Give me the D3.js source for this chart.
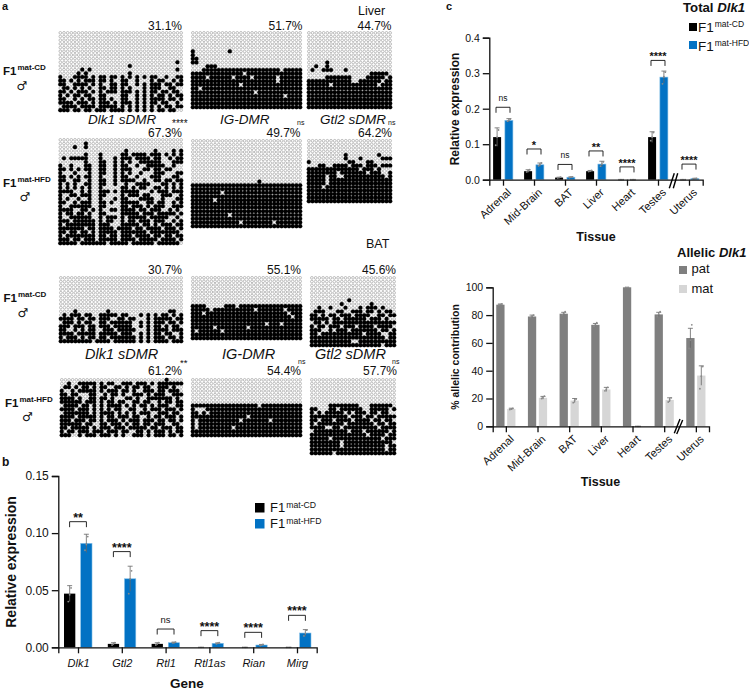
<!DOCTYPE html>
<html>
<head>
<meta charset="utf-8">
<script src="https://cdn.jsdelivr.net/npm/d3@7"></script>
<style>
  html, body { margin: 0; padding: 0; background: #fff; }
  text { font-family: "Liberation Sans", Arial, sans-serif; fill: #111; }
</style>
</head>
<body>
<div id="chart"></div>
<script>
// methylation grids, only the rows from the first black dot down (1 = methylated)
var liverCdDlk1 = [
  "0000000000000000000000000000000010",
  "0000000000000000000100000000000000",
  "0000001010000000000000000000000010",
  "0000010100000000000100000000000000",
  "1000111101011011010101010110010011",
  "1101010111011010011001000101100101",
  "1100111101010011011001010111011011",
  "0110101010011011010100010111001100",
  "1101011101010111011101010110110110",
  "1010110110011000011001010101101011",
  "1100101011011010011001010111101101",
  "1111011101011101011101010110110010",
  "0111101111011111010101010101011011",
  "1110110110111011110101010101101100"];
var liverCdIg = [
  "100000000010000000000000000000",
  "100000000000000000000000000000",
  "110000000000000000000000000000",
  "110000000000000000000000000000",
  "000011100000000000000000000000",
  "000111111111111111111111011111",
  "111111111111110111111111111111",
  "111101111110111101111110111111",
  "111111111111111111111110111111",
  "111111111111101111111111111111",
  "110111111111111111111111111111",
  "111111111111111110111111111111",
  "111111111111111111111111101111",
  "111111111111111111111111111111",
  "111111111111111111111111111111",
  "111111111111111111111111111111"];
var liverCdGtl2 = [
  "00000100000000000000000",
  "00100100000000000000000",
  "01001110001000000000000",
  "00000000000000000111110",
  "00000111111100001111101",
  "11111111111100111111011",
  "11111101111111111110111",
  "11111111111111111111111",
  "11111111111111111111111",
  "11111111111111111111111",
  "11111111111111111111111",
  "11111111111111111111111",
  "11111111111111111111111"];
var liverHfdDlk1 = [
  "0000000100000000000000000000000000",
  "0000100100000000000000000000000000",
  "0000000000000000001000000010000101",
  "0000000100010000011011110111010101",
  "0101111100010001011101111011001011",
  "0000000100011001010100111111000111",
  "1001000110011001011001001111100100",
  "1101010110011001011100011011011000",
  "1000100010011001010100100011100011",
  "1101010110010001011001000111000110",
  "1100110010011001011110010011011011",
  "1010100110011001001001111000110101",
  "1010101010010000011010110011010101",
  "1111001010011101011111000101110111",
  "1001101110011000010111011000111001",
  "1010010010010001011000111100100011",
  "1100101110011010011111001101100101",
  "1001111110011000011011101011100111",
  "1111001101010011011110110111001010",
  "1011011010011000011111011101111101",
  "1001111110010111010111110111110010",
  "1110111111010110010110111011100101",
  "1011111111011100011111011010111011",
  "1111111011011110111101101111011101",
  "1101101101011111011111110111111110",
  "1011111111011011011101111011011011",
  "1110110111011111011110111110111101",
  "1111101111111011111011111101111110"];
var liverHfdIg = [
  "000000000000000000100000000000",
  "111111111111111111111111111111",
  "111111111111111111111111111111",
  "111111110111111111111111111111",
  "111111111111111111111111111111",
  "111111011111111111111111111111",
  "111111111111111111111111111111",
  "111111111111111111111111111111",
  "111111111111111111111111111111",
  "111111111101111111111111111111",
  "111111111111111111111111111111",
  "111111111111101111111101111111",
  "111111111111111111111111111111"];
var liverHfdGtl2 = [
  "00000000001000000001000",
  "00000000001000100000111",
  "10000000000110001100000",
  "00011001111011101110111",
  "11111111111111011101000",
  "11111111011111110111001",
  "11111011001111111111101",
  "11111011111111111111111",
  "11111011111111111111111",
  "11110111111111111111111",
  "11111111111111111111111",
  "11111111111111111111111",
  "11111111111111111111111",
  "11111111111111111111111"];
var batCdDlk1 = [
  "0000100000000100000000000000001100",
  "0101110110011111011000101010110101",
  "1111011011011100110110001011111011",
  "0111010110011011111100101011101101",
  "1110111011011101111100101011010110",
  "1100101011001110111110001011110111",
  "1111011111011111011100101011011001",
  "1011101011011011111110101011101101",
  "1111111110111101111110101011110111"];
var batCdIg = [
  "111100000111011111111111111111",
  "111110111111111110111111101111",
  "111011111111111111111111110111",
  "111111111111111111111111111011",
  "111111111111111111111111111111",
  "111111111111111111110111011111",
  "111111011111111011111111111111",
  "101111110111111111111111111111",
  "111111111111111111111111111111",
  "111111111111111111111111111111"];
var batCdGtl2 = [
  "00000000001000000000000",
  "00000000100000001000000",
  "00100100010001011101000",
  "01110001100111011010110",
  "11010110111011110011011",
  "11111011011111101110100",
  "01101011111111111111111",
  "10110111011101111011110",
  "11100101110111111101101",
  "11011111111111011110011",
  "11111111111111111111011",
  "11111111111001111111111",
  "11111111111111111110111"];
var batHfdDlk1 = [
  "0000000000000000000000000000010000",
  "0010011111010110011101110101111111",
  "0110101101011001101011011001110100",
  "1001011111010111011010011101101110",
  "1101100011001011010011101011100111",
  "1111010011011010001101001111111010",
  "1111110111010110110011011001011011",
  "0111101101010111101010110101110011",
  "1111011101010101100110010111011101",
  "0111111101011110101010111001110110",
  "1111011111010110111011001011011101",
  "1110111011010111010111011101101101",
  "1111110110011011101011011011100110",
  "1101111101011101110111110110111011",
  "1011011101110111011001101011101011",
  "1110010111011101010011101011101101"];
var batHfdIg = [
  "111111111111111111011111111111",
  "100011111111111111111111111111",
  "110101111111111111111111111111",
  "111111111111111011111111111111",
  "101111111111101111111011111111",
  "101111111111111111111111111111",
  "101111111110111111111111111111",
  "111111111111111111111111111111",
  "111111111111111111111111111111"];
var batHfdGtl2 = [
  "00000111111110001111110",
  "11000110111111001111101",
  "10101111101011101101100",
  "11111111110111011011111",
  "11011101111011110110110",
  "10111111101111111011011",
  "11110011011111111101111",
  "01111111110111011111101",
  "11111111111111101111011",
  "11111011111111111110111",
  "11111111011111111111110",
  "11111111011111111111011",
  "11111111111111111111011",
  "11111101111111111111111"];

// panel b
var genes = ["Dlk1", "Gtl2", "Rtl1", "Rtl1as", "Rian", "Mirg"];
var bCd = [0.047, 0.003, 0.003, 0, 0, 0];
var bHfd = [0.091, 0.060, 0.004, 0.0035, 0.002, 0.0125];
var bCdErr = [0.007, 0.001, 0.001, 0, 0, 0];
var bHfdErr = [0.008, 0.011, 0.0005, 0.0004, 0.0005, 0.003];
var bCdDots = [[0.040, 0.046, 0.052], [0.002, 0.003, 0.004], [0.002, 0.003, 0.004], [0, 0, 0, 0], [0, 0, 0, 0], [0, 0, 0, 0]];
var bHfdDots = [[0.085, 0.090, 0.097], [0.047, 0.060, 0.067], [0.004, 0.004, 0.0045], [0.003, 0.0035, 0.004], [0.0015, 0.002, 0.0025], [0.010, 0.012, 0.015]];
var bTicks = [0, 0.05, 0.10, 0.15];
var bSig = ["**", "****", "ns", "****", "****", "****"];
var bBracket = [0.110, 0.0838, 0.016, 0.0146, 0.0131, 0.028];

// panel c, total Dlk1
var tissues = ["Adrenal", "Mid-Brain", "BAT", "Liver", "Heart", "Testes", "Uterus"];
var cCd = [0.12, 0.024, 0.006, 0.024, 0, 0.12, 0];
var cHfd = [0.167, 0.042, 0.007, 0.044, 0, 0.289, 0.003];
var cCdErr = [0.026, 0.004, 0.001, 0.002, 0, 0.015, 0];
var cHfdErr = [0.005, 0.005, 0.001, 0.008, 0, 0.017, 0.001];
var cCdDots = [[0.097, 0.12, 0.14], [0.022, 0.025, 0.028], [0.005, 0.006, 0.007], [0.023, 0.024, 0.026], [0, 0, 0, 0], [0.11, 0.12, 0.133], [0, 0, 0, 0]];
var cHfdDots = [[0.165, 0.168, 0.171], [0.039, 0.042, 0.047], [0.006, 0.007, 0.008], [0.038, 0.044, 0.05], [0, 0, 0, 0], [0.27, 0.29, 0.303], [0.002, 0.003, 0.004]];
var cTicks = [0, 0.1, 0.2, 0.3, 0.4];
var cSig = ["ns", "*", "ns", "**", "****", "****", "****"];
var cBracket = [0.204, 0.0865, 0.043, 0.081, 0.036, 0.336, 0.044];

// panel d, allelic Dlk1
var dPat = [87.5, 79, 81, 73, 100, 80.5, 63.5];
var dMat = [12.5, 20.5, 18.5, 26.5, 0, 19, 36.5];
var dPatErr = [0.5, 1, 1, 1, 0, 1.5, 7];
var dMatErr = [0.5, 1, 1.5, 1.5, 0, 1.5, 7];
var dPatDots = [[87.3, 87.6, 88], [78.3, 79, 80], [80.3, 81, 82.5], [72, 73, 74.5], [100, 100, 100], [79, 80.5, 82.5], [56, 62, 73]];
var dMatDots = [[12, 12.4, 12.8], [20, 20.5, 21.7], [17, 18.5, 19.5], [25.5, 26.5, 28], [0, 0, 0, 0], [17.5, 19, 20.5], [27, 36, 43]];
var dTicks = [0, 20, 40, 60, 80, 100];

var cdBlack = "#000000", hfdBlue = "#0272c4", patGrey = "#7f7f7f", matGrey = "#d6d6d6";

var svg = d3.select("#chart").append("svg")
  .attr("width", 749)
  .attr("height", 690);

// ---- a: the dot grids ----
var grids = [
  {rows: liverCdDlk1, cols: 34, n: 22, x: [58.5, 183], y: [31, 112]},
  {rows: liverCdIg, cols: 30, n: 21, x: [191, 302], y: [31, 109]},
  {rows: liverCdGtl2, cols: 23, n: 21, x: [307, 392], y: [31, 109]},
  {rows: liverHfdDlk1, cols: 34, n: 29, x: [58.5, 183], y: [138, 245]},
  {rows: liverHfdIg, cols: 30, n: 24, x: [191, 302], y: [139, 228]},
  {rows: liverHfdGtl2, cols: 23, n: 18, x: [307, 392], y: [139, 203]},
  {rows: batCdDlk1, cols: 34, n: 18, x: [59, 183], y: [276, 343]},
  {rows: batCdIg, cols: 30, n: 18, x: [191, 302], y: [276, 340]},
  {rows: batCdGtl2, cols: 23, n: 19, x: [310, 396], y: [276, 347]},
  {rows: batHfdDlk1, cols: 34, n: 16, x: [60, 183], y: [378, 437]},
  {rows: batHfdIg, cols: 30, n: 16, x: [191, 302], y: [378, 437]},
  {rows: batHfdGtl2, cols: 23, n: 21, x: [310, 396], y: [378, 455]}
];

grids.forEach(function(g) {
  var x = d3.scaleBand().domain(d3.range(g.cols)).range(g.x);
  var y = d3.scaleBand().domain(d3.range(g.n)).range(g.y);
  var top = g.n - g.rows.length;
  var cells = [];
  d3.range(g.n).forEach(function(r) {
    var row = r < top ? "" : g.rows[r - top];
    d3.range(g.cols).forEach(function(c) {
      cells.push({r: r, c: c, on: row[c] === "1"});
    });
  });
  svg.append("g").selectAll("circle")
    .data(cells)
    .enter().append("circle")
    .attr("cx", function(d) { return x(d.c) + x.bandwidth() / 2; })
    .attr("cy", function(d) { return y(d.r) + y.bandwidth() / 2; })
    .attr("r", function(d) { return d.on ? 2.1 : 1.35; })
    .attr("fill", function(d) { return d.on ? "#000" : "#fff"; })
    .attr("stroke", function(d) { return d.on ? "#000" : "#a2a2a2"; })
    .attr("stroke-width", function(d) { return d.on ? 0.2 : 0.7; });
});

function label(txt, x, y, size, opts) {
  opts = opts || {};
  return svg.append("text")
    .attr("x", x).attr("y", y)
    .attr("font-size", size)
    .attr("text-anchor", opts.anchor || "start")
    .attr("font-weight", opts.bold ? "bold" : "normal")
    .attr("font-style", opts.italic ? "italic" : "normal")
    .text(txt);
}

// big F1 with a raised part after it
function f1(x, y, size, sup, supSize, bold, rise) {
  var t = label("F1", x, y, size, {bold: bold});
  t.append("tspan")
    .attr("dx", 1).attr("dy", -rise)
    .attr("font-size", supSize)
    .text(sup);
}

function male(x, y) {
  svg.append("text")
    .attr("x", x).attr("y", y + 4)
    .attr("text-anchor", "middle")
    .attr("font-size", 12)
    .style("font-family", "DejaVu Sans")
    .text("\u2642");
}

label("a", 2, 10, 11, {bold: true});
label("b", 2, 466, 12, {bold: true});
label("c", 446, 10, 11, {bold: true});

label("Liver", 358, 15, 12.5);
label("BAT", 366, 248, 12.5);

var pctTexts = [
  ["31.1%", 182, 30], ["51.7%", 302.5, 30], ["44.7%", 391.5, 30],
  ["67.3%", 182, 137], ["49.7%", 300.5, 137], ["64.2%", 392, 137],
  ["30.7%", 182, 274], ["55.1%", 301, 274], ["45.6%", 396, 274],
  ["61.2%", 182, 375], ["54.4%", 301, 375], ["57.7%", 397, 375]
];
pctTexts.forEach(function(p) { label(p[0], p[1], p[2], 12, {anchor: "end"}); });

var dmrTexts = [
  ["Dlk1 sDMR", 88, 124, 13.5], ["IG-DMR", 220, 124, 13.5], ["Gtl2 sDMR", 320, 124, 13.5],
  ["Dlk1 sDMR", 85, 359, 14.5], ["IG-DMR", 222, 359, 14.5], ["Gtl2 sDMR", 315, 359, 14.5]
];
dmrTexts.forEach(function(p) { label(p[0], p[1], p[2], p[3], {italic: true}); });

label("****", 172, 127, 10);
label("ns", 297, 125, 7);
label("ns", 388, 125, 7);
label("**", 180, 366, 9.5);
label("ns", 298, 364, 7);
label("ns", 392, 364, 7);

f1(3, 75, 11.5, "mat-CD", 8, true, 5);
male(22, 86);
f1(3, 187, 11.5, "mat-HFD", 8, true, 5);
male(25, 197);
f1(3.5, 302, 11.5, "mat-CD", 8, true, 5);
male(23, 313);
f1(5, 407, 11.5, "mat-HFD", 8, true, 5);
male(27.5, 417);

// ---- bar panels ----
function barPanel(o) {
  var x = d3.scalePoint().domain(o.cats).range(o.xRange).padding(o.xPad);
  var y = d3.scaleLinear().domain(o.yDomain).range(o.yRange);
  var inner = d3.scaleBand().domain([0, 1]).range([-o.half, o.half]).paddingInner(o.innerPad);
  var g = svg.append("g");

  o.series.forEach(function(s, si) {
    var sg = g.append("g");
    sg.selectAll("rect")
      .data(s.values)
      .enter().append("rect")
      .attr("x", function(d, i) { return x(o.cats[i]) + inner(si); })
      .attr("y", function(d) { return y(d); })
      .attr("width", inner.bandwidth())
      .attr("height", function(d) { return y(0) - y(d); })
      .attr("fill", s.color)
      .attr("stroke", s.edge || "none")
      .attr("stroke-width", 0.6);

    // error bars
    var cx = function(i) { return x(o.cats[i]) + inner(si) + inner.bandwidth() / 2; };
    var eb = sg.selectAll(".eb")
      .data(s.values.map(function(v, i) { return {v: v, e: s.err[i], i: i}; }).filter(function(d) { return d.e > 0; }))
      .enter().append("g")
      .attr("stroke", "#666")
      .attr("stroke-width", 0.8);
    eb.append("line")
      .attr("x1", function(d) { return cx(d.i); })
      .attr("x2", function(d) { return cx(d.i); })
      .attr("y1", function(d) { return y(d.v - d.e); })
      .attr("y2", function(d) { return y(d.v + d.e); });
    eb.append("line")
      .attr("x1", function(d) { return cx(d.i) - 2.5; })
      .attr("x2", function(d) { return cx(d.i) + 2.5; })
      .attr("y1", function(d) { return y(d.v + d.e); })
      .attr("y2", function(d) { return y(d.v + d.e); });

    // replicate dots
    s.dots.forEach(function(vals, i) {
      sg.selectAll(null)
        .data(vals)
        .enter().append("circle")
        .attr("cx", function(d, k) { return cx(i) + (k - (vals.length - 1) / 2) * 1.4; })
        .attr("cy", function(d) { return y(d); })
        .attr("r", 0.9)
        .attr("fill", "#8a8a8a");
    });
  });

  // brackets and stars
  if (o.brackets) {
    var br = g.selectAll(".br")
      .data(o.brackets)
      .enter().append("g");
    br.append("path")
      .attr("fill", "none")
      .attr("stroke", "#111")
      .attr("stroke-width", 0.9)
      .attr("d", function(d, i) {
        var c = x(o.cats[i]), t = y(d);
        return "M" + (c - o.brHalf) + "," + (t + 5.5) + "V" + t + "H" + (c + o.brHalf) + "V" + (t + 5.5);
      });
    br.append("text")
      .attr("x", function(d, i) { return x(o.cats[i]); })
      .attr("y", function(d, i) { return y(d) + (o.sig[i] === "ns" ? -6.5 : 0); })
      .attr("text-anchor", "middle")
      .attr("font-size", function(d, i) { return o.sig[i] === "ns" ? o.nsSize : o.starSize; })
      .attr("font-weight", function(d, i) { return o.sig[i] === "ns" ? "normal" : "bold"; })
      .text(function(d, i) { return o.sig[i]; });
  }

  var yAxis = d3.axisLeft(y).tickValues(o.ticks).tickSizeOuter(0).tickSize(6.5).tickFormat(o.fmt);
  var ya = g.append("g")
    .attr("transform", "translate(" + o.xRange[0] + ",0)")
    .call(yAxis);
  ya.selectAll("text").attr("font-size", o.tickSize);

  var xAxis = d3.axisBottom(x).tickSizeOuter(0).tickSize(6);
  var xa = g.append("g")
    .attr("transform", "translate(0," + o.yRange[0] + ")")
    .call(xAxis);
  if (o.rotate) {
    xa.selectAll("text")
      .attr("font-size", o.catSize)
      .attr("text-anchor", "end")
      .attr("transform", "rotate(-43)")
      .attr("dx", "-0.3em")
      .attr("dy", "0.6em");
  } else {
    xa.selectAll("text")
      .attr("font-size", o.catSize)
      .attr("font-style", "italic")
      .attr("dy", "0.95em");
  }
  g.selectAll(".domain, .tick line").attr("stroke", "#111").attr("stroke-width", 1.3);
  g.selectAll(".tick text").attr("fill", "#222").style("font-family", '"Liberation Sans", Arial, sans-serif');

  // axis break
  if (o.brk) {
    o.brk.forEach(function(b) {
      g.append("line")
        .attr("x1", b[0]).attr("y1", b[1]).attr("x2", b[2]).attr("y2", b[3])
        .attr("stroke", "#000").attr("stroke-width", 1.4);
    });
  }

  // axis titles
  svg.append("text")
    .attr("transform", "translate(" + o.yLabel[0] + "," + o.yLabel[1] + ") rotate(-90)")
    .attr("text-anchor", "middle")
    .attr("font-weight", "bold")
    .attr("font-size", o.yLabel[3])
    .text(o.yLabel[2]);
  svg.append("text")
    .attr("x", o.xLabel[0]).attr("y", o.xLabel[1])
    .attr("text-anchor", "middle")
    .attr("font-weight", "bold")
    .attr("font-size", o.xLabel[3])
    .text(o.xLabel[2]);
}

barPanel({
  cats: genes, xRange: [58.3, 316.7], xPad: 0.45,
  yDomain: [0, 0.15], yRange: [647.3, 476],
  half: 14, innerPad: 0.323,
  series: [
    {values: bCd, err: bCdErr, dots: bCdDots, color: cdBlack},
    {values: bHfd, err: bHfdErr, dots: bHfdDots, color: hfdBlue, edge: "#7fbce6"}
  ],
  brackets: bBracket, sig: bSig, brHalf: 8.4, starSize: 12.5, nsSize: 9.5,
  ticks: bTicks, fmt: d3.format(".2f"), tickSize: 12, catSize: 11,
  yLabel: [16, 562, "Relative expression", 14],
  xLabel: [187, 688, "Gene", 13.5]
});

barPanel({
  cats: tissues, xRange: [489.3, 702.7], xPad: 0.442,
  yDomain: [0, 0.4], yRange: [179.7, 37.7],
  half: 9.9, innerPad: 0.322,
  series: [
    {values: cCd, err: cCdErr, dots: cCdDots, color: cdBlack},
    {values: cHfd, err: cHfdErr, dots: cHfdDots, color: hfdBlue, edge: "#7fbce6"}
  ],
  brackets: cBracket, sig: cSig, brHalf: 7, starSize: 11, nsSize: 8.5,
  ticks: cTicks, fmt: d3.format(".1f"), tickSize: 10.5, catSize: 11, rotate: true,
  brk: [[669.3, 188.3, 674.3, 173.3], [673.3, 188.3, 677.7, 173.3]],
  yLabel: [459, 109, "Relative expression", 12],
  xLabel: [596, 241, "Tissue", 12.5]
});

barPanel({
  cats: tissues, xRange: [492.7, 709], xPad: 0.415,
  yDomain: [0, 100], yRange: [426.3, 287.3],
  half: 9.6, innerPad: 0.24,
  series: [
    {values: dPat, err: dPatErr, dots: dPatDots, color: patGrey},
    {values: dMat, err: dMatErr, dots: dMatDots, color: matGrey}
  ],
  ticks: dTicks, fmt: d3.format("d"), tickSize: 10.5, catSize: 11, rotate: true,
  brk: [[674.3, 433.3, 680, 419], [676.7, 434, 682.7, 420]],
  yLabel: [459, 357, "% allelic contribution", 10.5],
  xLabel: [600.5, 486, "Tissue", 12.5]
});

// ---- legends and titles ----
function swatch(x, y, s, color) {
  svg.append("rect").attr("x", x).attr("y", y).attr("width", s).attr("height", s).attr("fill", color);
}

swatch(255, 503, 9.5, cdBlack);
f1(270, 511.5, 13, "mat-CD", 8.7, false, 4);
swatch(255, 519, 9.5, hfdBlue);
f1(270, 528, 13, "mat-HFD", 8.7, false, 4);

var totalTitle = label("Total ", 683, 12, 13.2, {bold: true});
totalTitle.append("tspan").attr("font-style", "italic").text("Dlk1");
swatch(689, 23, 8, cdBlack);
f1(698, 32, 13.5, "mat-CD", 8.5, false, 5);
swatch(689, 41, 8, hfdBlue);
f1(698, 51, 13.5, "mat-HFD", 8.5, false, 5);

var allelicTitle = label("Allelic ", 677, 257, 13, {bold: true});
allelicTitle.append("tspan").attr("font-style", "italic").text("Dlk1");
swatch(679, 266, 8, patGrey);
label("pat", 691.5, 273, 13);
swatch(679, 285, 8, matGrey);
label("mat", 691.5, 292.5, 13);
</script>
</body>
</html>
